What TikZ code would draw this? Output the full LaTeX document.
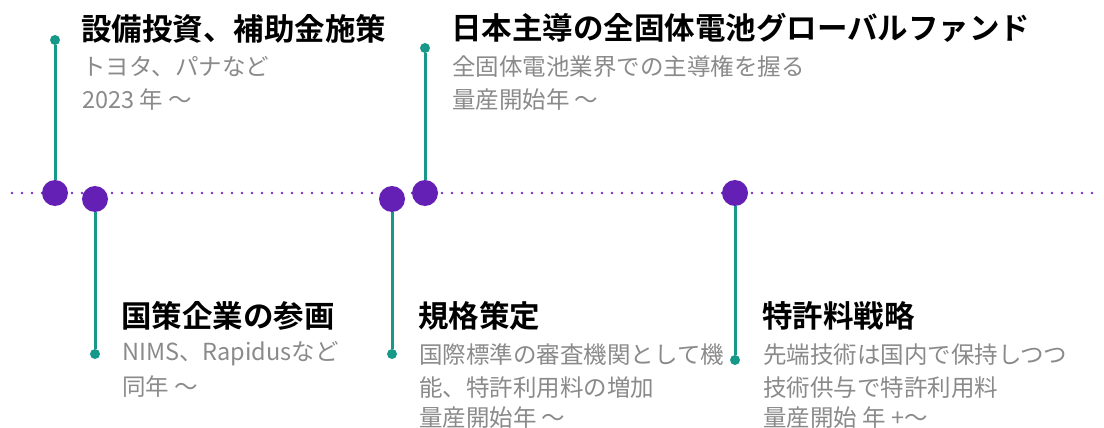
\documentclass[tikz,border=0pt]{standalone}
\usepackage{fontspec}
\setmainfont{Noto Sans CJK JP}[BoldFont={Noto Sans CJK JP Bold}]
\definecolor{tpurple}{HTML}{6420B4}
\definecolor{tdots}{HTML}{7A2CC4}
\definecolor{tteal}{HTML}{17998A}
\definecolor{tgray}{HTML}{8A8A8A}
\begin{document}
\begin{tikzpicture}[x=1pt,y=-1pt,
  big/.style={circle,fill=tpurple,minimum size=26pt,inner sep=0pt},
  small/.style={circle,fill=tteal,minimum size=10pt,inner sep=0pt},
  stem/.style={draw=tteal,line width=3pt},
  axis/.style={draw=tdots,line width=2.8pt,line cap=round,dash pattern=on 0pt off 10pt},
  title/.style={anchor=west,inner sep=0pt,font=\fontsize{30.5}{36}\selectfont\bfseries,text=black},
  sub/.style={anchor=west,inner sep=0pt,font=\fontsize{23.5}{28}\selectfont,text=tgray}
]
\useasboundingbox (0,0) rectangle (1104,428);
% timeline
\coordinate (L) at (12,193);
\coordinate (R) at (1100,193);
\draw[axis] (L) -- (R);
% big circles
\node[big] (c1) at (55,193) {};
\node[big] (c2) at (95,199) {};
\node[big] (c3) at (392,199) {};
\node[big] (c4) at (425,193) {};
\node[big] (c5) at (735,193) {};
% small dots
\node[small] (d1) at (55,40) {};
\node[small] (d2) at (95,354) {};
\node[small] (d3) at (392,354) {};
\node[small] (d4) at (425,48) {};
\node[small] (d5) at (735,360) {};
% stems
\draw[stem] (d1) -- (c1);
\draw[stem] (c2) -- (d2);
\draw[stem] (c3) -- (d3);
\draw[stem] (d4) -- (c4);
\draw[stem] (c5) -- (d5);
% texts top
\node[title] (t1) at (81,29) {設備投資、補助金施策};
\node[sub] (s1a) at (82,67) {トヨタ、パナなど};
\node[sub] (s1b) at (82,100) {2023 年 〜};
\node[title] (t2) at (451,28) {日本主導の全固体電池グローバルファンド};
\node[sub] (s2a) at (452,67) {全固体電池業界での主導権を握る};
\node[sub] (s2b) at (452,100) {量産開始年 〜};
% texts bottom
\node[title] (t3) at (121,316) {国策企業の参画};
\node[sub] (s3a) at (122,354) {NIMS、Rapidusなど};
\node[sub] (s3b) at (122,387) {同年 〜};
\node[title] (t4) at (418,316) {規格策定};
\node[sub] (s4a) at (419,355) {国際標準の審査機関として機};
\node[sub] (s4b) at (419,388) {能、特許利用料の増加};
\node[sub] (s4c) at (419,418) {量産開始年 〜};
\node[title] (t5) at (762,316) {特許料戦略};
\node[sub] (s5a) at (763,355) {先端技術は国内で保持しつつ};
\node[sub] (s5b) at (763,388) {技術供与で特許利用料};
\node[sub] (s5c) at (763,418) {量産開始 年 +〜};
\end{tikzpicture}
\end{document}
